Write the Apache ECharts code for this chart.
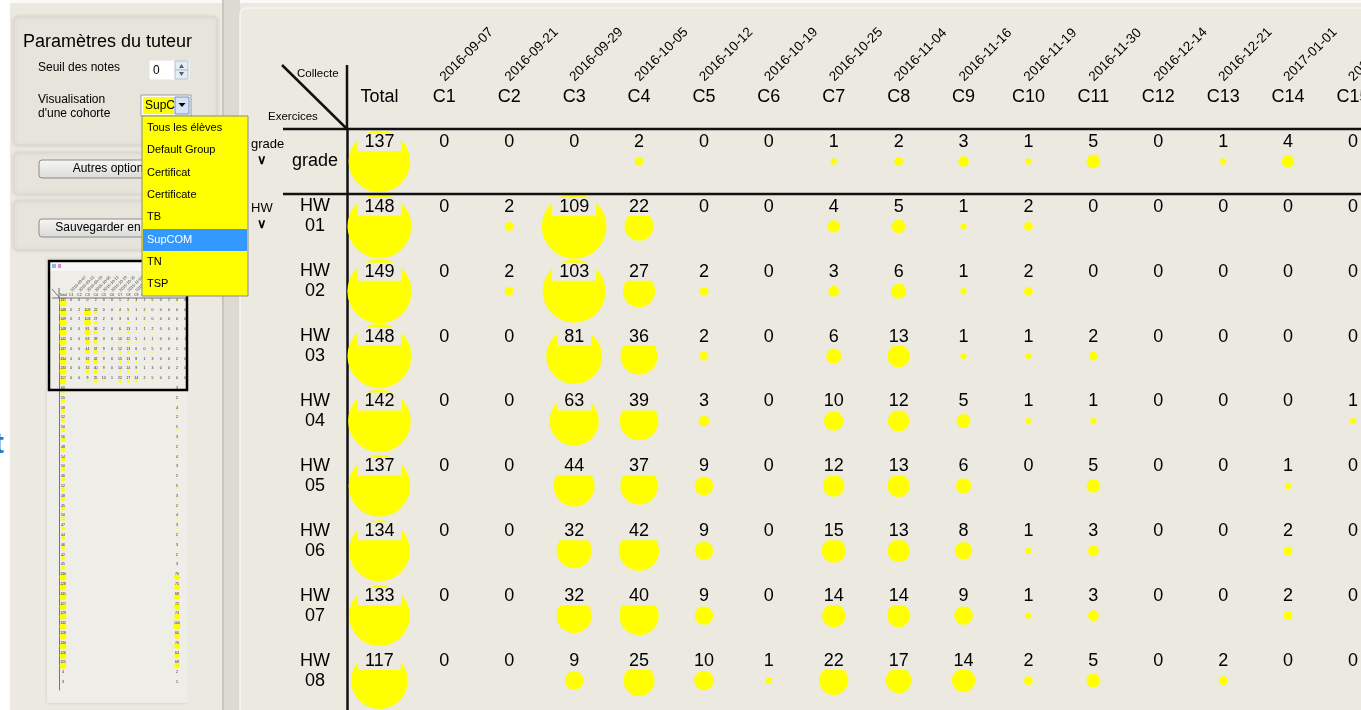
<!DOCTYPE html>
<html>
<head>
<meta charset="utf-8">
<script src="https://cdn.jsdelivr.net/npm/echarts@6/dist/echarts.min.js"></script>
<style>
html, body { margin: 0; padding: 0; background: #ECE9E1; overflow: hidden; }
#chart { width: 1361px; height: 710px; }
</style>
</head>
<body>
<div id="chart"></div>
<script>
// collectes (colonnes) et exercices (lignes)
const columns = ['Total', 'C1', 'C2', 'C3', 'C4', 'C5', 'C6', 'C7', 'C8', 'C9', 'C10', 'C11', 'C12', 'C13', 'C14', 'C15']
const collectDates = ['', '2016-09-07', '2016-09-21', '2016-09-29', '2016-10-05', '2016-10-12', '2016-10-19',
  '2016-10-25', '2016-11-04', '2016-11-16', '2016-11-19', '2016-11-30', '2016-12-14', '2016-12-21', '2017-01-01', '2017-01-11']
const exercises = ['grade', 'HW01', 'HW02', 'HW03', 'HW04', 'HW05', 'HW06', 'HW07', 'HW08']

// total par exercice
const totals = [137, 148, 149, 148, 142, 137, 134, 133, 117]

// nombre par collecte C1..C15
const gradeCounts = [0, 0, 0, 2, 0, 0, 1, 2, 3, 1, 5, 0, 1, 4, 0]
const hw01Counts = [0, 2, 109, 22, 0, 0, 4, 5, 1, 2, 0, 0, 0, 0, 0]
const hw02Counts = [0, 2, 103, 27, 2, 0, 3, 6, 1, 2, 0, 0, 0, 0, 0]
const hw03Counts = [0, 0, 81, 36, 2, 0, 6, 13, 1, 1, 2, 0, 0, 0, 0]
const hw04Counts = [0, 0, 63, 39, 3, 0, 10, 12, 5, 1, 1, 0, 0, 0, 1]
const hw05Counts = [0, 0, 44, 37, 9, 0, 12, 13, 6, 0, 5, 0, 0, 1, 0]
const hw06Counts = [0, 0, 32, 42, 9, 0, 15, 13, 8, 1, 3, 0, 0, 2, 0]
const hw07Counts = [0, 0, 32, 40, 9, 0, 14, 14, 9, 1, 3, 0, 0, 2, 0]
const hw08Counts = [0, 0, 9, 25, 10, 1, 22, 17, 14, 2, 5, 0, 2, 0, 0]

// miniature : lignes suivantes (estimées), colonne Total et C14
const miniRestTotals = [60, 55, 58, 52, 50, 56, 48, 54, 50, 46, 52, 48, 45, 50, 47, 44, 46, 42, 45,
  130, 128, 131, 127, 129, 132, 128, 130, 126, 125, 4, 3]
const miniRestC14 = [3, 2, 4, 2, 5, 3, 2, 4, 3, 2, 5, 3, 2, 4, 3, 2, 3, 2, 3,
  70, 75, 68, 72, 74, 100, 66, 70, 64, 68, 2, 1]

const cohorts = ['Tous les élèves', 'Default Group', 'Certificat', 'Certificate', 'TB', 'SupCOM', 'TN', 'TSP']

const FONT = '"Liberation Sans", Arial, sans-serif'
const BG = '#ECE9E1'
const YELLOW = '#FFFF00'

const countRows = [gradeCounts, hw01Counts, hw02Counts, hw03Counts, hw04Counts, hw05Counts, hw06Counts, hw07Counts, hw08Counts]

const totalData = totals.map((v, r) => [0, r, v])
const collectData = []
countRows.forEach((row, r) => {
  row.forEach((v, c) => collectData.push([c + 1, r, v]))
})

const miniTotalData = totalData.concat(miniRestTotals.map((v, i) => [0, 9 + i, v]))
const miniCollectData = collectData.concat(miniRestC14.map((v, i) => [14, 9 + i, v]))

// échelle des disques (surface proportionnelle)
const totalScale = 5.26
const collectScale = 6.2

const cellLabel = {
  show: true,
  position: 'inside',
  offset: [0, -19.5],
  formatter: p => p.value[2],
  fontSize: 18,
  lineHeight: 18,
  fontFamily: FONT,
  color: '#000',
  backgroundColor: BG,
  padding: [0, 7]
}

const miniLabel = {
  show: true,
  position: 'inside',
  offset: [0, -3],
  formatter: p => p.value[2],
  fontSize: 3.5,
  color: '#222',
  fontFamily: FONT
}

const hideAxis = { axisLine: { show: false }, axisTick: { show: false }, splitLine: { show: false } }

const chart = echarts.init(document.getElementById('chart'))

const graphics = [
  // fonds
  { type: 'rect', z: -10, shape: { x: 0, y: 0, width: 1361, height: 710 }, style: { fill: BG } },
  { type: 'rect', z: -9, shape: { x: 0, y: 0, width: 1361, height: 3 }, style: { fill: '#FAFAF8' } },
  { type: 'rect', z: -9, shape: { x: 0, y: 0, width: 10, height: 710 }, style: { fill: '#FFFFFF' } },
  { type: 'text', z: -8, style: { x: -6, y: 445, text: 't', fontSize: 30, fontWeight: 'bold', fill: '#1A7BD0', verticalAlign: 'middle', fontFamily: FONT } },
  { type: 'rect', z: -9, shape: { x: 222, y: 0, width: 18, height: 710 }, style: { fill: '#DDDAD2' } },
  { type: 'rect', z: -9, shape: { x: 222, y: 0, width: 2, height: 710 }, style: { fill: '#C9C6BE' } },
  { type: 'rect', z: -8, shape: { x: 240, y: 8, width: 1140, height: 720, r: 7 }, style: { fill: BG, stroke: '#F6F5F1', lineWidth: 1.5 } },

  // panneaux de gauche
  { type: 'rect', z: -7, shape: { x: 14, y: 17, width: 203, height: 128, r: 4 }, style: { fill: '#E7E4DB', stroke: '#DBD8CF', shadowBlur: 4, shadowColor: 'rgba(0,0,0,0.12)' } },
  { type: 'rect', z: -7, shape: { x: 14, y: 153, width: 203, height: 41, r: 4 }, style: { fill: '#E7E4DB', stroke: '#DBD8CF', shadowBlur: 4, shadowColor: 'rgba(0,0,0,0.12)' } },
  { type: 'rect', z: -7, shape: { x: 14, y: 201, width: 203, height: 49, r: 4 }, style: { fill: '#E7E4DB', stroke: '#DBD8CF', shadowBlur: 4, shadowColor: 'rgba(0,0,0,0.12)' } },
  { type: 'text', z: 1, style: { x: 23, y: 42, text: 'Paramètres du tuteur', fontSize: 18, fill: '#000', verticalAlign: 'middle', fontFamily: FONT } },
  { type: 'text', z: 1, style: { x: 38, y: 68, text: 'Seuil des notes', fontSize: 12, fill: '#000', verticalAlign: 'middle', fontFamily: FONT } },
  { type: 'text', z: 1, style: { x: 38, y: 107, text: 'Visualisation\nd\'une cohorte', fontSize: 12, lineHeight: 14, fill: '#000', verticalAlign: 'middle', fontFamily: FONT } },
  // champ numérique
  { type: 'rect', z: 1, shape: { x: 149, y: 60, width: 41, height: 20 }, style: { fill: '#FFFFFF', stroke: '#E2E2E2' } },
  { type: 'text', z: 2, style: { x: 153, y: 71, text: '0', fontSize: 12, fill: '#000', verticalAlign: 'middle', fontFamily: FONT } },
  { type: 'rect', z: 2, shape: { x: 175, y: 61, width: 13, height: 9 }, style: { fill: '#E6ECF4', stroke: '#B4C0D0' } },
  { type: 'rect', z: 2, shape: { x: 175, y: 70, width: 13, height: 9 }, style: { fill: '#E6ECF4', stroke: '#B4C0D0' } },
  { type: 'polygon', z: 3, shape: { points: [[179, 68], [184, 68], [181.5, 64]] }, style: { fill: '#55606E' } },
  { type: 'polygon', z: 3, shape: { points: [[179, 72], [184, 72], [181.5, 76]] }, style: { fill: '#55606E' } },
  // liste déroulante
  { type: 'rect', z: 1, shape: { x: 141, y: 95, width: 50, height: 21 }, style: { fill: '#FFFFFF', stroke: '#9A9A9A' } },
  { type: 'rect', z: 2, shape: { x: 143, y: 97, width: 31, height: 17 }, style: { fill: YELLOW } },
  { type: 'text', z: 3, style: { x: 145, y: 106, text: 'SupC', fontSize: 12, fill: '#000', verticalAlign: 'middle', fontFamily: FONT } },
  { type: 'rect', z: 2, shape: { x: 175, y: 97, width: 14, height: 17 }, style: { fill: '#D6E3F5', stroke: '#6E8FC0' } },
  { type: 'polygon', z: 3, shape: { points: [[178.5, 103], [185.5, 103], [182, 107]] }, style: { fill: '#000' } },
  // boutons
  { type: 'rect', z: 1, shape: { x: 39, y: 160, width: 154, height: 18, r: 3 }, style: { fill: new echarts.graphic.LinearGradient(0, 0, 0, 1, [{ offset: 0, color: '#F7F7F5' }, { offset: 1, color: '#DADAD6' }]), stroke: '#8C8C8C' } },
  { type: 'text', z: 2, style: { x: 116, y: 169, text: 'Autres options...', fontSize: 12, fill: '#000', align: 'center', verticalAlign: 'middle', fontFamily: FONT } },
  { type: 'rect', z: 1, shape: { x: 39, y: 219, width: 154, height: 18, r: 3 }, style: { fill: new echarts.graphic.LinearGradient(0, 0, 0, 1, [{ offset: 0, color: '#F7F7F5' }, { offset: 1, color: '#DADAD6' }]), stroke: '#8C8C8C' } },
  { type: 'text', z: 2, style: { x: 116, y: 228, text: 'Sauvegarder en image', fontSize: 12, fill: '#000', align: 'center', verticalAlign: 'middle', fontFamily: FONT } },

  // miniature
  { type: 'rect', z: -6, shape: { x: 47, y: 259, width: 141, height: 444 }, style: { fill: '#EFEDE7', shadowBlur: 3, shadowColor: 'rgba(0,0,0,0.15)' } },
  { type: 'rect', z: -5, shape: { x: 49, y: 262, width: 138, height: 9 }, style: { fill: '#F7F7F5' } },
  { type: 'rect', z: -4, shape: { x: 52, y: 264, width: 4, height: 4 }, style: { fill: '#8CB8E8' } },
  { type: 'rect', z: -4, shape: { x: 58, y: 264, width: 3, height: 4 }, style: { fill: '#E88CC0' } },
  { type: 'line', z: 3, shape: { x1: 52, y1: 298, x2: 187, y2: 298 }, style: { stroke: '#555', lineWidth: 0.8 } },
  { type: 'line', z: 3, shape: { x1: 52, y1: 289, x2: 59, y2: 297 }, style: { stroke: '#555', lineWidth: 0.8 } },
  { type: 'line', z: 3, shape: { x1: 59, y1: 288, x2: 59, y2: 298 }, style: { stroke: '#555', lineWidth: 0.8 } },
  { type: 'rect', z: 40, shape: { x: 187, y: 271, width: 35, height: 439 }, style: { fill: BG } },
  { type: 'rect', z: 50, shape: { x: 49, y: 261, width: 138, height: 129 }, style: { fill: 'none', stroke: '#000', lineWidth: 2.5 } },

  // cadre du tableau
  { type: 'line', z: 5, shape: { x1: 283, y1: 129, x2: 1361, y2: 129 }, style: { stroke: '#111', lineWidth: 2.5 } },
  { type: 'line', z: 5, shape: { x1: 283, y1: 194, x2: 1361, y2: 194 }, style: { stroke: '#111', lineWidth: 2.5 } },
  { type: 'line', z: 5, shape: { x1: 347, y1: 65, x2: 347, y2: 130 }, style: { stroke: '#111', lineWidth: 2.5 } },
  { type: 'line', z: 5, shape: { x1: 282, y1: 65, x2: 347, y2: 129 }, style: { stroke: '#111', lineWidth: 2.5 } },
  { type: 'text', z: 5, style: { x: 297, y: 74, text: 'Collecte', fontSize: 11.5, fill: '#000', verticalAlign: 'middle', fontFamily: FONT } },
  { type: 'text', z: 5, style: { x: 268, y: 117, text: 'Exercices', fontSize: 11.5, fill: '#000', verticalAlign: 'middle', fontFamily: FONT } },

  // menu de la liste déroulante (ouvert)
  { type: 'rect', z: 100, shape: { x: 142, y: 116, width: 106, height: 180 }, style: { fill: YELLOW, stroke: '#8A8A8A' } },
  { type: 'rect', z: 101, shape: { x: 143, y: 229, width: 104, height: 22 }, style: { fill: '#3399FF' } }
]

cohorts.forEach((name, i) => {
  graphics.push({
    type: 'text', z: 102,
    style: { x: 147, y: 128 + i * 22.3, text: name, fontSize: 11, fill: name === 'SupCOM' ? '#FFFFFF' : '#000', verticalAlign: 'middle', fontFamily: FONT }
  })
})

const option = {
  animation: false,
  grid: [
    { left: 347, top: 129, width: 1038.4, height: 584, outerBoundsMode: 'none' },
    { left: 345, top: 129, width: 1038.4, height: 584, outerBoundsMode: 'none' },
    { left: 59, top: 298, width: 130.2, height: 392, outerBoundsMode: 'none' }
  ],
  xAxis: [
    {
      gridIndex: 0, type: 'category', position: 'top', data: columns, ...hideAxis,
      axisLabel: { interval: 0, margin: 23, fontSize: 18, lineHeight: 18, color: '#000', fontFamily: FONT }
    },
    {
      gridIndex: 1, type: 'category', position: 'top', data: collectDates, ...hideAxis,
      axisLabel: { interval: 0, rotate: -45, margin: 50, fontSize: 13.5, color: '#000', fontFamily: FONT }
    },
    {
      gridIndex: 2, type: 'category', position: 'top', data: columns, ...hideAxis,
      axisLabel: { interval: 0, margin: 1, fontSize: 3.5, color: '#333', fontFamily: FONT }
    },
    {
      gridIndex: 2, type: 'category', position: 'top', data: collectDates, ...hideAxis,
      axisLabel: { interval: 0, rotate: -45, margin: 7, fontSize: 4, color: '#444', fontFamily: FONT }
    }
  ],
  yAxis: [
    {
      gridIndex: 0, type: 'category', position: 'left', inverse: true, data: exercises,
      axisLine: { show: true, lineStyle: { color: '#111', width: 2.5 } },
      axisTick: { show: false }, splitLine: { show: false },
      axisLabel: {
        interval: 0, align: 'center', margin: 32, fontSize: 18, lineHeight: 20, color: '#000', fontFamily: FONT,
        padding: [2, 0, 0, 0],
        formatter: v => v === 'grade' ? v : 'HW\n' + v.slice(2) + '\n'
      }
    },
    {
      gridIndex: 0, type: 'category', position: 'left', inverse: true, data: exercises, ...hideAxis,
      axisLabel: {
        interval: 0, align: 'left', margin: 96, padding: [0, 0, 20, 0],
        formatter: (v, i) => i === 0 ? '{t|grade}\n{c|∨}' : (i === 1 ? '{t|HW}\n{c|∨}' : ''),
        rich: {
          t: { fontSize: 13, lineHeight: 17, color: '#000', fontFamily: FONT },
          c: { fontSize: 13, lineHeight: 15, color: '#000', fontWeight: 'bold', padding: [0, 0, 0, 6] }
        }
      }
    },
    { gridIndex: 1, type: 'category', inverse: true, data: exercises, show: false },
    {
      gridIndex: 2, type: 'value', position: 'left', inverse: true, min: -0.5, max: 39.5, ...hideAxis,
      axisLine: { show: true, lineStyle: { color: '#555', width: 0.8 } },
      axisLabel: { show: false }
    }
  ],
  graphic: { elements: graphics },
  series: [
    {
      name: 'Total', type: 'scatter', xAxisIndex: 0, yAxisIndex: 0, data: totalData,
      symbolSize: d => totalScale * Math.sqrt(d[2]),
      itemStyle: { color: YELLOW, opacity: 1 },
      label: cellLabel, emphasis: { disabled: true }, z: 3
    },
    {
      name: 'Collectes', type: 'scatter', xAxisIndex: 0, yAxisIndex: 0, data: collectData,
      symbolSize: d => collectScale * Math.sqrt(d[2]),
      itemStyle: { color: YELLOW, opacity: 1 },
      label: cellLabel, emphasis: { disabled: true }, z: 3
    },
    {
      name: 'mini Total', type: 'scatter', xAxisIndex: 2, yAxisIndex: 3, data: miniTotalData,
      symbolSize: d => 0.6 * Math.sqrt(d[2]),
      itemStyle: { color: YELLOW, opacity: 1 },
      label: miniLabel, emphasis: { disabled: true }, z: 3
    },
    {
      name: 'mini Collectes', type: 'scatter', xAxisIndex: 2, yAxisIndex: 3, data: miniCollectData,
      symbolSize: d => 0.68 * Math.sqrt(d[2]),
      itemStyle: { color: YELLOW, opacity: 1 },
      label: miniLabel, emphasis: { disabled: true }, z: 3
    }
  ]
}

chart.setOption(option)
</script>
</body>
</html>
